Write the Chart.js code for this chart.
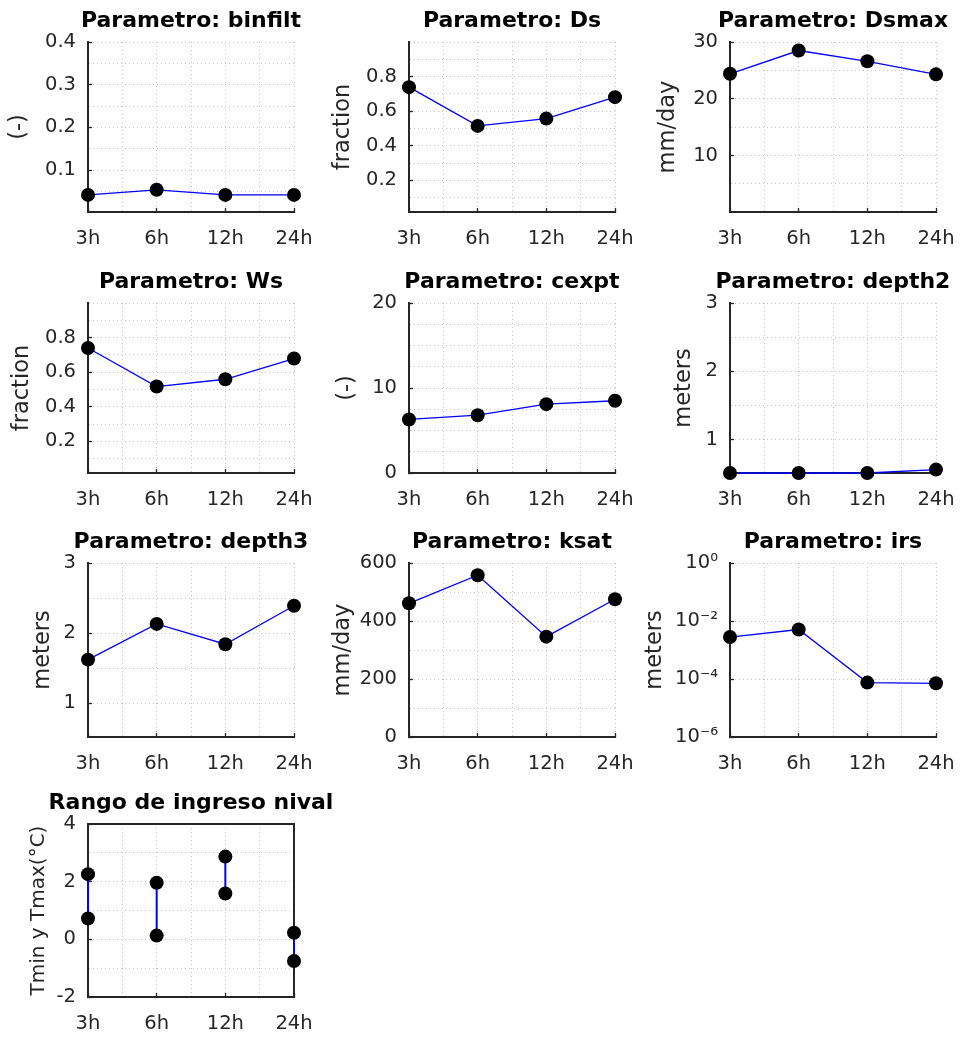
<!DOCTYPE html>
<html><head><meta charset="utf-8">
<script src="https://cdn.jsdelivr.net/npm/chart.js@4"></script>
<style>
html,body{margin:0;padding:0;background:#fff;width:961px;height:1037px;overflow:hidden;position:relative;}
canvas{position:absolute;}
</style></head><body>
<script>
// ---------- DATA ----------
const categories = ['3h', '6h', '12h', '24h'];
const binfilt = [0.042, 0.054, 0.042, 0.042];
const Ds      = [0.739, 0.515, 0.557, 0.681];
const Dsmax   = [24.4, 28.5, 26.6, 24.3];
const Ws      = [0.740, 0.517, 0.559, 0.679];
const cexpt   = [6.3, 6.8, 8.1, 8.5];
const depth2  = [0.515, 0.515, 0.515, 0.565];
const depth3  = [1.62, 2.13, 1.84, 2.39];
const ksat    = [461, 558, 346, 475];
const irs     = [2.8e-3, 5.1e-3, 7.5e-5, 7.1e-5];
const tmin    = [0.72, 0.13, 1.59, -0.75];
const tmax    = [2.26, 1.96, 2.87, 0.23];

// ---------- TICKS ----------
const binfiltTicks = [0.1, 0.2, 0.3, 0.4];
const binfiltGrid  = [0.05, 0.1, 0.15, 0.2, 0.25, 0.3, 0.35, 0.4];
const fracTicks    = [0.2, 0.4, 0.6, 0.8];
const fracGrid     = [0.1, 0.2, 0.3, 0.4, 0.5, 0.6, 0.7, 0.8, 0.9, 1.0];
const DsmaxTicks   = [10, 20, 30];
const DsmaxGrid    = [5, 10, 15, 20, 25, 30];
const cexptTicks   = [0, 10, 20];
const cexptGrid    = [0, 2.5, 5, 7.5, 10, 12.5, 15, 17.5, 20];
const depthTicks   = [1, 2, 3];
const depthGrid    = [1, 1.5, 2, 2.5, 3];
const ksatTicks    = [0, 200, 400, 600];
const ksatGrid     = [0, 100, 200, 300, 400, 500, 600];
const irsTicks     = [1e-6, 1e-4, 1e-2, 1];
const irsTickLabels = ['10\u207B\u2076', '10\u207B\u2074', '10\u207B\u00B2', '10\u2070'];
const rangeTicks   = [-2, 0, 2, 4];
const rangeGrid    = [-2, -1, 0, 1, 2, 3, 4];
const xGrid        = [1, 1.5, 2, 2.5, 3, 3.5, 4];

// ---------- LAYOUT / STYLE ----------
const FONT = "'DejaVu Sans', 'Liberation Sans', Arial, sans-serif";
const M = 100, T = 42, B = 48;
const colL = [88, 409, 730], axW = 206;
const rowT = [42, 303, 563, 824], rowH = [170, 170, 174, 173];
const BLUE = '#0000ff', AXIS = '#262626', GRID = '#c4c4c4';

Chart.defaults.font.family = FONT;

const panels = [
  {title:'Parametro: binfilt', ylabel:'(-)', values:binfilt, ticks:binfiltTicks, grid:binfiltGrid, min:0.002, max:0.4, col:0, row:0, gap:68.5},
  {title:'Parametro: Ds', ylabel:'fraction', values:Ds, ticks:fracTicks, grid:fracGrid, min:0.017, max:1.0, col:1, row:0, gap:66},
  {title:'Parametro: Dsmax', ylabel:'mm/day', values:Dsmax, ticks:DsmaxTicks, grid:DsmaxGrid, min:0.05, max:30, col:2, row:0, gap:61.7},
  {title:'Parametro: Ws', ylabel:'fraction', values:Ws, ticks:fracTicks, grid:fracGrid, min:0.017, max:1.0, col:0, row:1, gap:65.8},
  {title:'Parametro: cexpt', ylabel:'(-)', values:cexpt, ticks:cexptTicks, grid:cexptGrid, min:0, max:20, col:1, row:1, gap:61.8},
  {title:'Parametro: depth2', ylabel:'meters', values:depth2, ticks:depthTicks, grid:depthGrid, min:0.515, max:3, col:2, row:1, gap:45.7},
  {title:'Parametro: depth3', ylabel:'meters', values:depth3, ticks:depthTicks, grid:depthGrid, min:0.515, max:3, col:0, row:2, gap:44.7},
  {title:'Parametro: ksat', ylabel:'mm/day', values:ksat, ticks:ksatTicks, grid:ksatGrid, min:0, max:600, col:1, row:2, gap:65.7},
  {title:'Parametro: irs', ylabel:'meters', values:irs, ticks:irsTicks, grid:irsTicks, labels:irsTickLabels, log:true, min:1e-6, max:1, col:2, row:2, gap:75},
  {title:'Rango de ingreso nival', ylabel:'Tmin y Tmax(\u00B0C)', range:true, ticks:rangeTicks, grid:rangeGrid, min:-2, max:4, col:0, row:3, gap:49, labelSize:20, box:true}
];

function near(a, b) { return Math.abs(a - b) < 1e-9 * (Math.abs(b) || 1); }

function buildPanel(p) {
  const axL = colL[p.col], axT = rowT[p.row], axH = rowH[p.row];
  const W = M + axW + M, H = T + axH + B;
  const cv = document.createElement('canvas');
  cv.width = W; cv.height = H;
  Object.assign(cv.style, {left:(axL - M) + 'px', top:(axT - T) + 'px', width:W + 'px', height:H + 'px'});
  document.body.appendChild(cv);

  const isMajorY = v => p.ticks.some(t => near(v, t));
  const labelSize = p.labelSize || 22.5;
  const labelPad = M - p.gap - labelSize * 1.2 / 2;

  let datasets;
  const pointStyle = {pointRadius:7, pointHoverRadius:7, pointBackgroundColor:'#000', pointBorderWidth:0, clip:false, tension:0};
  if (p.range) {
    datasets = categories.map((c, i) => Object.assign({
      data:[{x:i + 1, y:tmin[i]}, {x:i + 1, y:tmax[i]}],
      borderColor:BLUE, borderWidth:2
    }, pointStyle));
  } else {
    datasets = [Object.assign({
      data:p.values.map((v, i) => ({x:i + 1, y:v})),
      borderColor:BLUE, borderWidth:1.3
    }, pointStyle)];
  }

  const scales = {
    x: {
      type:'linear', position:'bottom', min:1, max:4,
      afterBuildTicks: s => { s.ticks = xGrid.map(v => ({value:v})); },
      afterFit: s => { s.height = B; },
      ticks: {
        autoSkip:false, maxRotation:0, padding:19.4, color:AXIS,
        font:{family:FONT, size:19.5},
        callback: v => Number.isInteger(v) ? categories[v - 1] : ''
      },
      grid: {
        color:GRID, lineWidth:1, drawTicks:true, tickLength:-4, tickWidth:1.3, tickBorderDash:[],
        tickColor: c => (c.tick && Number.isInteger(c.tick.value)) ? AXIS : 'rgba(0,0,0,0)'
      },
      border: {display:true, color:AXIS, width:2, dash:[1, 3]}
    },
    y: {
      type:p.log ? 'logarithmic' : 'linear', position:'left', min:p.min, max:p.max,
      afterBuildTicks: s => { s.ticks = p.grid.map(v => ({value:v})); },
      afterFit: s => { s.width = M; },
      ticks: {
        autoSkip:false, padding:16, color:AXIS,
        font:{family:FONT, size:19.5},
        callback: v => {
          if (!isMajorY(v)) return '';
          if (p.labels) { const k = p.ticks.findIndex(t => near(v, t)); return p.labels[k]; }
          return String(Math.round(v * 1000) / 1000);
        }
      },
      grid: {
        color:GRID, lineWidth:1, drawTicks:true, tickLength:-4, tickWidth:1.3, tickBorderDash:[],
        tickColor: c => (c.tick && isMajorY(c.tick.value)) ? AXIS : 'rgba(0,0,0,0)'
      },
      border: {display:true, color:AXIS, width:2, dash:[1, 3]},
      title: {display:true, text:p.ylabel, color:AXIS, font:{family:FONT, size:labelSize}, padding:{top:labelPad, bottom:0}}
    },
    yr: {
      type:'linear', position:'right', min:p.log ? 0 : p.min, max:p.log ? 1 : p.max, display:true,
      ticks:{display:false}, grid:{display:false},
      border:{display:!!p.box, color:AXIS, width:2},
      afterFit: s => { s.width = M; }
    }
  };
  if (p.box) {
    scales.xt = {type:'linear', position:'top', min:1, max:4, display:true,
      ticks:{display:false}, grid:{display:false}, border:{display:true, color:AXIS, width:2},
      afterFit: s => { s.height = 0; }};
  }

  new Chart(cv, {
    type:'line',
    data:{datasets},
    options:{
      responsive:false, animation:false, devicePixelRatio:1, events:[],
      layout:{padding:0},
      plugins:{
        legend:{display:false}, tooltip:{enabled:false},
        title:{display:true, text:p.title, fullSize:true, color:'#000',
          font:{family:FONT, size:22, weight:'bold'}, padding:{top:8.5, bottom:7.1}}
      },
      scales
    }
  });
}

panels.forEach(buildPanel);
</script>
</body></html>
